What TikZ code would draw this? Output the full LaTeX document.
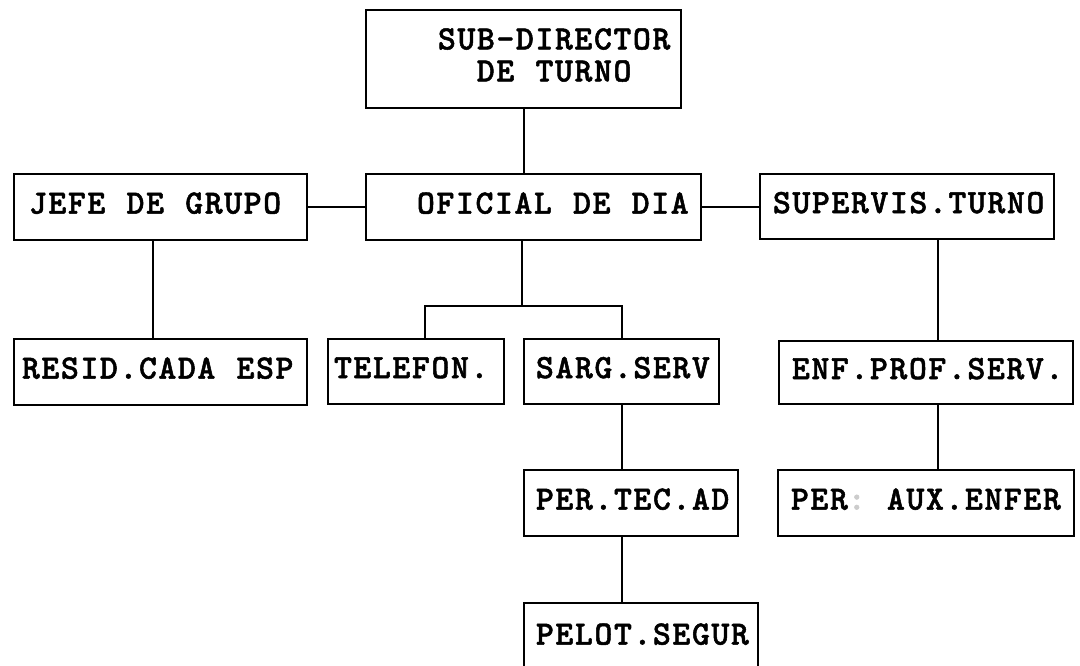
\documentclass[tikz,border=0pt]{standalone}
\usepackage{fontspec}
\newfontfamily\unitfont{lmmonolt10-bold.otf}[LetterSpace=4.85, WordSpace={1.092,0,0}, FakeBold=1.5]

\begin{document}
\begin{tikzpicture}[
    x=1pt, y=-1pt,
    every node/.style={draw, line width=2pt, anchor=north west, align=flush left,
      inner ysep=0pt, minimum height=66pt, text depth=8pt,
      font=\unitfont\fontsize{34}{32}\selectfont},
    link/.style={line width=2pt}
]
\useasboundingbox (0,0) rectangle (1080,665);

\node[inner xsep=72pt, text width=171pt, minimum height=98pt, text depth=] (subdir) at (365,9)
  {\begin{tabular}{@{}c@{}}SUB-DIRECTOR\\DE TURNO\end{tabular}};
\node[inner xsep=15pt, text width=263pt] (jefe) at (13,173) {JEFE~DE~GRUPO};
\node[inner xsep=51pt, text width=233pt] (oficial) at (365,173) {OFICIAL~DE~DIA};
\node[inner xsep=13pt, text width=268pt, minimum height=65pt] (supervis) at (759,173) {SUPERVIS.TURNO};
\node[inner xsep=8pt, text width=277pt] (resid) at (13,338) {RESID.CADA~ESP};
\node[inner xsep=6pt, text width=164pt, minimum height=65pt] (telefon) at (327,338) {TELEFON.};
\node[inner xsep=12pt, text width=171pt, minimum height=65pt] (sarg) at (523,338) {SARG.SERV};
\node[inner xsep=13pt, text width=268pt, minimum height=63pt] (enf) at (778,340) {ENF.PROF.SERV.};
\node[inner xsep=12pt, text width=190pt] (pertec) at (523,469) {PER.TEC.AD};
\node[inner xsep=13pt, text width=270pt] (peraux) at (777,469) {PER\textcolor{gray!40}{:}~AUX.ENFER};
\node[inner xsep=12pt, text width=210pt, minimum height=70pt] (pelot) at (523,602) {PELOT.SEGUR};

\coordinate (fork) at (522,306);
\draw[link] (subdir) -- (subdir |- oficial.north);
\draw[link] (jefe.east) -- (jefe.east -| oficial.west);
\draw[link] (oficial.east) -- (oficial.east -| supervis.west);
\draw[link] (oficial.south -| fork) -- (fork);
\draw[link] ([xshift=9pt]telefon.north) |- (fork) -| (sarg.north);
\draw[link] ([xshift=-8pt]jefe.south) -- ([xshift=-8pt]resid.north);
\draw[link] ([xshift=12pt]enf.north) -- ([xshift=12pt]enf.north |- supervis.south);
\draw[link] (sarg.south) -- (sarg.south |- pertec.north);
\draw[link] (sarg.south |- pertec.south) -- (sarg.south |- pelot.north);
\draw[link] ([xshift=12pt]enf.south) -- ([xshift=12pt]enf.south |- peraux.north);
\end{tikzpicture}
\end{document}
